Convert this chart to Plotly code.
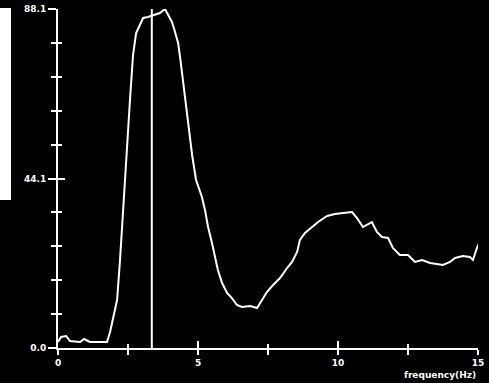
import plotly.graph_objects as go

# Spectrum data (frequency in Hz, amplitude)
freq = [0.0, 0.11, 0.29, 0.43, 0.79, 0.93, 1.14, 1.5, 1.75, 1.86, 1.96, 2.11, 2.21,
        2.36, 2.46, 2.57, 2.68, 2.79, 2.93, 3.04, 3.21, 3.46, 3.64, 3.82, 3.93, 4.07,
        4.18, 4.29, 4.36, 4.5, 4.64, 4.79, 4.93, 5.14, 5.25, 5.36, 5.5, 5.61, 5.71,
        5.86, 6.04, 6.21, 6.39, 6.57, 6.86, 7.11, 7.29, 7.46, 7.68, 7.93, 8.18, 8.36,
        8.54, 8.64, 8.82, 9.07, 9.29, 9.61, 9.89, 10.18, 10.5, 10.68, 10.89, 11.21,
        11.39, 11.57, 11.79, 11.96, 12.21, 12.5, 12.75, 13.0, 13.29, 13.75, 14.0,
        14.18, 14.46, 14.71, 14.82, 14.96, 15.04]
amp = [1.56, 2.86, 3.12, 1.82, 1.56, 2.34, 1.56, 1.56, 1.56, 4.16, 7.80, 12.47, 22.35,
       38.46, 51.46, 64.45, 76.14, 81.86, 83.94, 85.76, 86.02, 86.54, 87.06, 88.1, 86.54,
       84.72, 82.12, 79.26, 75.62, 67.05, 59.25, 50.16, 43.66, 39.24, 35.86, 31.44,
       27.29, 23.65, 20.27, 16.89, 14.29, 12.99, 11.17, 10.65, 10.91, 10.40, 12.47,
       14.55, 16.37, 18.19, 20.79, 22.35, 24.95, 28.07, 29.89, 31.44, 32.74, 34.30,
       34.82, 35.08, 35.34, 33.78, 31.44, 32.74, 30.15, 28.85, 28.59, 25.99, 24.17,
       24.17, 22.35, 22.87, 22.09, 21.57, 22.35, 23.39, 23.91, 23.65, 22.87, 25.99,
       27.29]

marker_freq = 3.35
y_max = 88.1
y_tickvals = [0, 44.05, 88.1]
y_ticktext = ["0.0", "44.1", "88.1"]
x_tickvals = [0, 5, 10, 15]
x_ticktext = ["0", "5", "10", "15"]
x_title = "frequency(Hz)"

font = dict(family="DejaVu Sans", size=9, color="white", weight="bold")

fig = go.Figure()
fig.add_trace(go.Scatter(x=freq, y=amp, mode="lines",
                         line=dict(color="white", width=2), showlegend=False,
                         cliponaxis=False, hoverinfo="skip"))
fig.add_trace(go.Scatter(x=[marker_freq, marker_freq], y=[0, y_max * 1.003], mode="lines",
                         line=dict(color="white", width=2), showlegend=False,
                         cliponaxis=False, hoverinfo="skip"))

common_y = dict(range=[0, y_max], showgrid=False, zeroline=False, automargin=False)
fig.update_layout(
    width=489, height=383,
    margin=dict(l=58, r=11, t=9, b=35),
    paper_bgcolor="black", plot_bgcolor="black",
    xaxis=dict(range=[0, 15], showgrid=False, zeroline=False, automargin=False,
               showline=True, linecolor="white", linewidth=2,
               tickvals=x_tickvals, ticktext=x_ticktext,
               ticks="outside", ticklen=5, tickwidth=2, tickcolor="white",
               minor=dict(tickmode="linear", tick0=0, dtick=2.5, ticks="outside",
                          ticklen=5, tickwidth=2, tickcolor="white"),
               tickfont=font),
    xaxis2=dict(range=[0, 15], overlaying="x", side="bottom", showgrid=False,
                zeroline=False, showticklabels=False, anchor="y", automargin=False,
                tickvals=x_tickvals, ticks="inside", ticklen=7, tickwidth=2,
                tickcolor="white",
                minor=dict(tickmode="linear", tick0=0, dtick=2.5, ticks="inside",
                           ticklen=4, tickwidth=2, tickcolor="white")),
    yaxis=dict(**common_y, showline=True, linecolor="white", linewidth=2,
               tickvals=y_tickvals, ticktext=y_ticktext,
               ticks="outside", ticklen=8, tickwidth=2, tickcolor="white",
               minor=dict(tickmode="linear", tick0=0, dtick=y_max / 10,
                          ticks="outside", ticklen=5, tickwidth=2, tickcolor="white"),
               tickfont=font),
    yaxis2=dict(**common_y, overlaying="y", side="left", anchor="x",
                showticklabels=False, tickvals=y_tickvals,
                ticks="inside", ticklen=7, tickwidth=2, tickcolor="white",
                minor=dict(tickmode="linear", tick0=0, dtick=y_max / 10,
                           ticks="inside", ticklen=4, tickwidth=2, tickcolor="white")),
    shapes=[dict(type="rect", xref="paper", yref="paper",
                 x0=-58 / 420, x1=-47 / 420, y0=0.4366, y1=1.003,
                 fillcolor="white", line=dict(width=0))],
    annotations=[dict(text=x_title, xref="paper", yref="paper", x=1, y=0,
                      xanchor="right", yanchor="top", yshift=-20, showarrow=False,
                      font=font)],
)
# dummy trace to activate the overlay axes
fig.add_trace(go.Scatter(x=[None], y=[None], xaxis="x2", yaxis="y2", showlegend=False))

fig.write_html("out.html", config={"displayModeBar": False},
               post_script="document.body.style.margin='0';document.body.style.overflow='hidden';")
